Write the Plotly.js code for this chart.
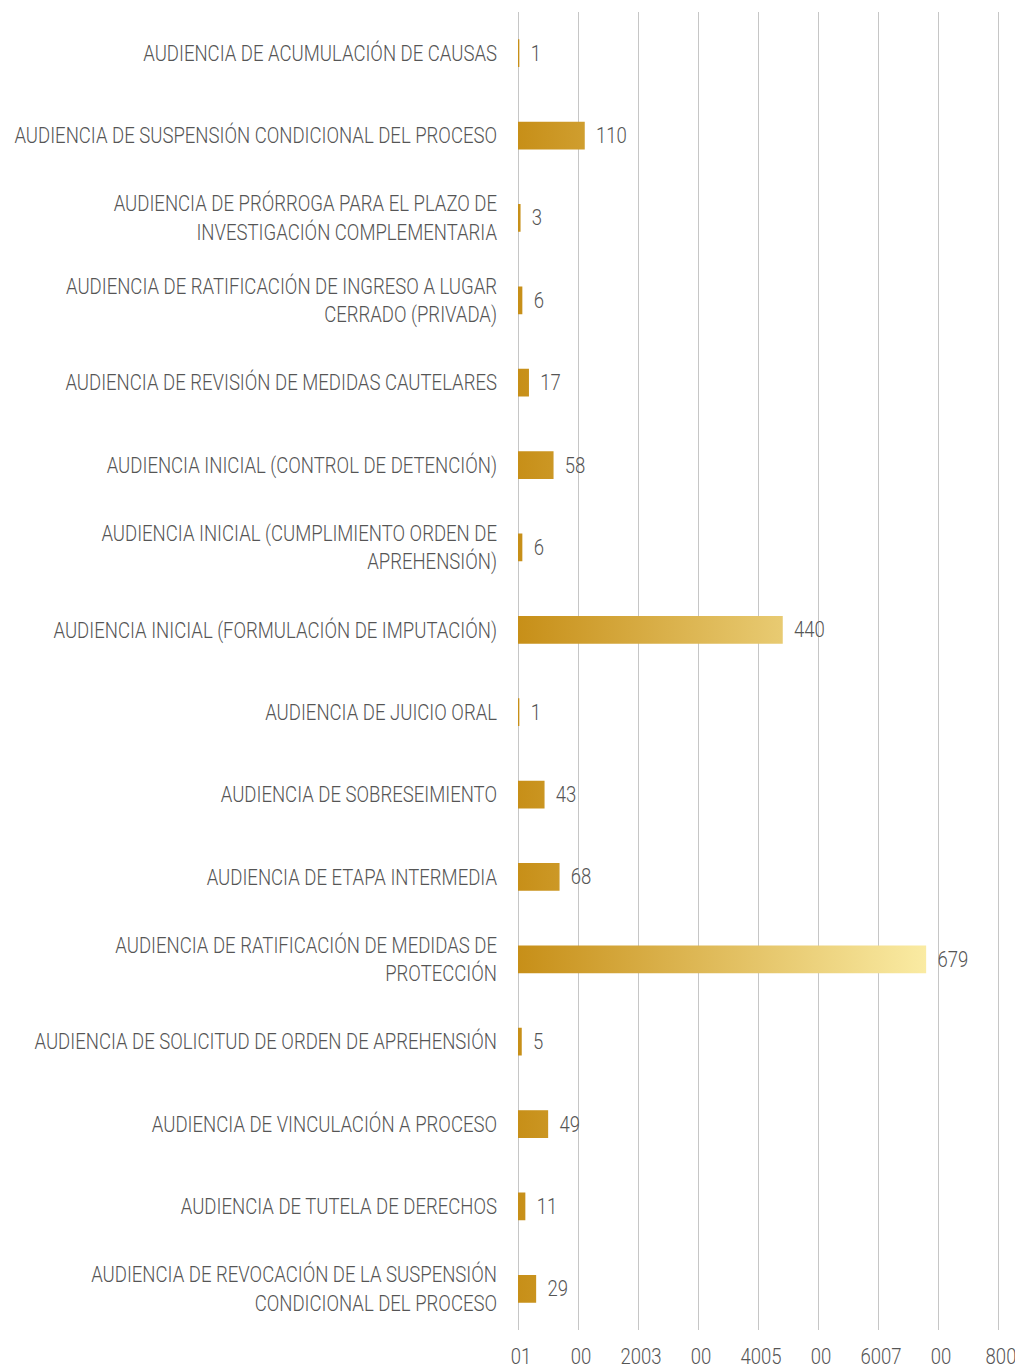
<!DOCTYPE html>
<html>
<head>
<meta charset="utf-8">
<script src="https://cdn.plot.ly/plotly-3.0.1.min.js"></script>
<style>
html,body{margin:0;padding:0;background:#fff;}
#chart{width:1015px;height:1368px;}
</style>
</head>
<body>
<div id="chart"></div>
<script>
const categories = [
  "AUDIENCIA DE ACUMULACIÓN DE CAUSAS",
  "AUDIENCIA DE SUSPENSIÓN CONDICIONAL DEL PROCESO",
  "AUDIENCIA DE PRÓRROGA PARA EL PLAZO DE<br>INVESTIGACIÓN COMPLEMENTARIA",
  "AUDIENCIA DE RATIFICACIÓN DE INGRESO A LUGAR<br>CERRADO (PRIVADA)",
  "AUDIENCIA DE REVISIÓN DE MEDIDAS CAUTELARES",
  "AUDIENCIA INICIAL (CONTROL DE DETENCIÓN)",
  "AUDIENCIA INICIAL (CUMPLIMIENTO ORDEN DE<br>APREHENSIÓN)",
  "AUDIENCIA INICIAL (FORMULACIÓN DE IMPUTACIÓN)",
  "AUDIENCIA DE JUICIO ORAL",
  "AUDIENCIA DE SOBRESEIMIENTO",
  "AUDIENCIA DE ETAPA INTERMEDIA",
  "AUDIENCIA DE RATIFICACIÓN DE MEDIDAS DE<br>PROTECCIÓN",
  "AUDIENCIA DE SOLICITUD DE ORDEN DE APREHENSIÓN",
  "AUDIENCIA DE VINCULACIÓN A PROCESO",
  "AUDIENCIA DE TUTELA DE DERECHOS",
  "AUDIENCIA DE REVOCACIÓN DE LA SUSPENSIÓN<br>CONDICIONAL DEL PROCESO"
];
const values = [1, 110, 3, 6, 17, 58, 6, 440, 1, 43, 68, 679, 5, 49, 11, 29];
const xTickVals = [0, 100, 200, 300, 400, 500, 600, 700, 800];
const xTickText = ["01", "00", "2003", "00", "4005", "00", "6007", "00", "800"];

const FONT = 'Roboto, "DejaVu Sans Condensed", sans-serif';
const WEIGHT = 300;
const TXT = '#555555';
const FS = 22;
const LONGEST_LABEL_PX = 483;   // width of the longest category label in the reference

const trace = {
  type: 'bar',
  orientation: 'h',
  y: categories,
  x: values,
  text: values.map(v => '\u00a0\u00a0' + v),
  textposition: 'outside',
  cliponaxis: false,
  textfont: {family: FONT, size: FS, color: TXT, weight: WEIGHT},
  marker: {color: '#C8921C', line: {width: 1.5, color: '#C8921C'}},
  hoverinfo: 'none'
};

const layout = {
  width: 1015,
  height: 1368,
  margin: {l: 518, r: 15, t: 12, b: 38},
  paper_bgcolor: '#ffffff',
  plot_bgcolor: '#ffffff',
  showlegend: false,
  bargap: 0.68,
  font: {family: FONT, size: FS, color: TXT, weight: WEIGHT},
  xaxis: {
    range: [0, 803.33],
    tickvals: xTickVals,
    ticktext: xTickText,
    showgrid: true,
    gridcolor: '#C6C6C6',
    gridwidth: 1,
    zeroline: true,
    zerolinecolor: '#C6C6C6',
    zerolinewidth: 1,
    showline: false,
    ticks: '',
    ticklabelstandoff: 11,
    ticklabeloverflow: 'allow',
    tickfont: {family: FONT, size: FS, color: TXT, weight: WEIGHT},
    fixedrange: true
  },
  yaxis: {
    type: 'category',
    autorange: 'reversed',
    showgrid: false,
    zeroline: false,
    showline: false,
    ticks: '',
    ticklabelstandoff: 20,
    tickfont: {family: FONT, size: FS, color: TXT, weight: WEIGHT},
    fixedrange: true
  }
};

function squeeze(el, mode, s, dx) {
  const bb = el.getBBox();
  let px;
  if (mode === 'right') px = bb.x + bb.width;
  else if (mode === 'left') px = bb.x;
  else px = bb.x + bb.width / 2;
  const t = el.getAttribute('transform') || '';
  el.setAttribute('transform', t + ' translate(' + (px + (dx || 0)) + ',0) scale(' + s + ',1) translate(' + (-px) + ',0)');
}

const gd = document.getElementById('chart');
Plotly.newPlot(gd, [trace], layout, {staticPlot: true, displayModeBar: false}).then(function () {
  const xa = gd._fullLayout.xaxis;
  const svg = gd.querySelector('.main-svg');
  const NS = 'http://www.w3.org/2000/svg';
  let defs = svg.querySelector('defs');
  if (!defs) { defs = document.createElementNS(NS, 'defs'); svg.insertBefore(defs, svg.firstChild); }
  const grad = document.createElementNS(NS, 'linearGradient');
  grad.setAttribute('id', 'barGrad');
  grad.setAttribute('gradientUnits', 'userSpaceOnUse');
  grad.setAttribute('x1', xa.l2p(0));
  grad.setAttribute('x2', xa.l2p(680));
  grad.setAttribute('y1', 0);
  grad.setAttribute('y2', 0);
  const s1 = document.createElementNS(NS, 'stop');
  s1.setAttribute('offset', '0');
  s1.setAttribute('stop-color', '#C78F18');
  const s2 = document.createElementNS(NS, 'stop');
  s2.setAttribute('offset', '1');
  s2.setAttribute('stop-color', '#FAEBA3');
  grad.appendChild(s1); grad.appendChild(s2);
  defs.appendChild(grad);
  gd.querySelectorAll('.barlayer .point path').forEach(function (p) {
    p.style.fill = 'url(#barGrad)';
    p.style.stroke = 'url(#barGrad)';
  });
  // horizontal condensing to emulate the condensed typeface
  let maxW = 0;
  gd.querySelectorAll('.ytick text').forEach(function (t) { maxW = Math.max(maxW, t.getBBox().width); });
  const S = Math.min(1, LONGEST_LABEL_PX / maxW);
  gd.querySelectorAll('.ytick text').forEach(function (t) { squeeze(t, 'right', S); });
  gd.querySelectorAll('.xtick text').forEach(function (t) { squeeze(t, 'center', S, 3); });
  gd.querySelectorAll('.barlayer .point text').forEach(function (t) { squeeze(t, 'left', S); });
});
</script>
</body>
</html>
